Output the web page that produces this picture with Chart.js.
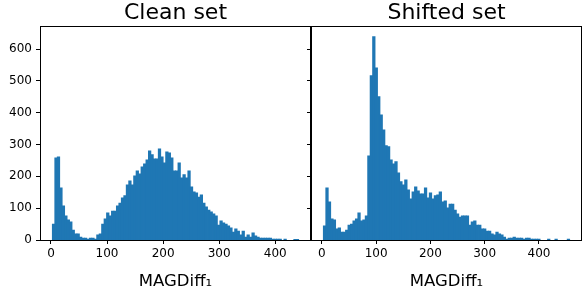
<!DOCTYPE html>
<html>
<head>
<meta charset="utf-8">
<script src="https://cdn.jsdelivr.net/npm/chart.js@4"></script>
<style>
  html, body { margin: 0; padding: 0; background: #fff; }
  #wrap { position: relative; width: 586px; height: 290px; }
  canvas { position: absolute; top: 0; }
  #clean { left: 0; }
  #shifted { left: 300px; }
</style>
</head>
<body>
<div id="wrap">
  <canvas id="clean" width="312" height="290"></canvas>
  <canvas id="shifted" width="286" height="290"></canvas>
</div>
<script>
// histogram counts, 100 bins each
const cleanCounts = [
  50, 258, 261, 164, 107, 76, 63, 57, 31, 19,
  19, 9, 6, 6, 3, 6, 6, 3, 16, 19,
  50, 66, 85, 76, 91, 91, 107, 116, 132, 139,
  173, 186, 173, 201, 217, 208, 230, 239, 252, 280,
  268, 255, 255, 286, 261, 242, 277, 274, 258, 217,
  217, 242, 195, 205, 195, 217, 167, 151, 148, 135,
  142, 116, 104, 94, 88, 82, 76, 47, 60, 54,
  50, 44, 38, 25, 35, 28, 16, 28, 9, 16,
  9, 22, 13, 9, 6, 6, 6, 6, 6, 3,
  3, 3, 3, 0, 3, 0, 0, 0, 2, 2
];
const shiftedCounts = [
  44, 164, 120, 66, 63, 35, 38, 25, 25, 31,
  47, 50, 60, 66, 85, 60, 63, 76, 264, 516,
  639, 541, 450, 393, 346, 296, 293, 252, 239, 246,
  211, 183, 173, 189, 157, 129, 151, 167, 154, 145,
  145, 164, 132, 148, 129, 139, 142, 151, 120, 123,
  101, 113, 113, 94, 82, 72, 76, 76, 76, 47,
  57, 60, 47, 47, 35, 35, 28, 28, 19, 16,
  25, 19, 16, 9, 3, 6, 6, 9, 6, 6,
  6, 3, 6, 6, 3, 3, 3, 3, 0, 0,
  0, 3, 0, 0, 3, 0, 0, 0, 0, 3
];
// data range (first bin edge, last bin edge)
const cleanRange = [2.4, 441.9];
const shiftedRange = [2.8, 456.6];
const xTicks = [0, 100, 200, 300, 400];
const yTicks = [0, 100, 200, 300, 400, 500, 600];
const yMax = 671;

Chart.defaults.font.family = 'DejaVu Sans';
Chart.defaults.color = '#000';

// bars at the bin centres; empty bins draw nothing
function toBins(counts, range) {
  const w = (range[1] - range[0]) / counts.length;
  return counts.map((c, i) => ({ x: range[0] + w * (i + 0.5), y: c === 0 ? null : c }));
}

// matplotlib style box around the axes
const frame = {
  id: 'frame',
  afterDraw(chart) {
    const a = chart.chartArea;
    const ctx = chart.ctx;
    const l = Math.round(a.left) + 0.5, r = Math.round(a.right) - 0.5;
    const t = Math.round(a.top) + 0.5, b = Math.round(a.bottom) + 0.5;
    ctx.save();
    ctx.strokeStyle = '#000';
    ctx.lineWidth = 1;
    ctx.strokeRect(l, t, r - l, b - t);
    ctx.restore();
  }
};

function makeChart(id, title, counts, range, yWidth, showY, padRight) {
  const span = range[1] - range[0];
  new Chart(document.getElementById(id), {
    type: 'bar',
    data: {
      datasets: [{
        data: toBins(counts, range),
        backgroundColor: '#1f77b4',
        borderWidth: 0,
        inflateAmount: 0.4,
        barPercentage: 1,
        categoryPercentage: 1
      }]
    },
    options: {
      responsive: false,
      animation: false,
      devicePixelRatio: 1,
      layout: { padding: { left: 0, right: padRight, top: 0, bottom: 0 } },
      plugins: {
        legend: { display: false },
        tooltip: { enabled: false },
        title: {
          display: true,
          text: title,
          fullSize: false,
          font: { size: 22, weight: 'normal', lineHeight: 1.2 },
          color: '#000',
          padding: 0
        }
      },
      scales: {
        x: {
          type: 'linear',
          offset: false,
          bounds: 'data',
          min: range[0] - 0.05 * span,
          max: range[1] + 0.05 * span,
          afterBuildTicks: s => { s.ticks = xTicks.map(v => ({ value: v })); },
          afterFit: s => { s.height = 50; },
          ticks: { font: { size: 12 }, color: '#000', padding: 3, maxRotation: 0, autoSkip: false },
          grid: { offset: false, drawOnChartArea: false, drawTicks: true, tickLength: 4, color: '#000' },
          border: { display: false },
          title: {
            display: true,
            text: 'MAGDiff\u2081',
            font: { size: 16.5, lineHeight: 1.2 },
            color: '#000',
            padding: { top: 0, bottom: -2 }
          }
        },
        y: {
          bounds: 'data',
          min: 0,
          max: yMax,
          afterBuildTicks: s => { s.ticks = yTicks.map(v => ({ value: v })); },
          afterFit: s => { s.width = yWidth; },
          ticks: { display: showY, font: { size: 12 }, color: '#000', padding: 4 },
          grid: { drawOnChartArea: false, drawTicks: true, tickLength: 4, color: '#000' },
          border: { display: false }
        }
      }
    },
    plugins: [frame]
  });
}

makeChart('clean', 'Clean set', cleanCounts, cleanRange, 40, true, 1);
makeChart('shifted', 'Shifted set', shiftedCounts, shiftedRange, 11, false, 4);
</script>
</body>
</html>
